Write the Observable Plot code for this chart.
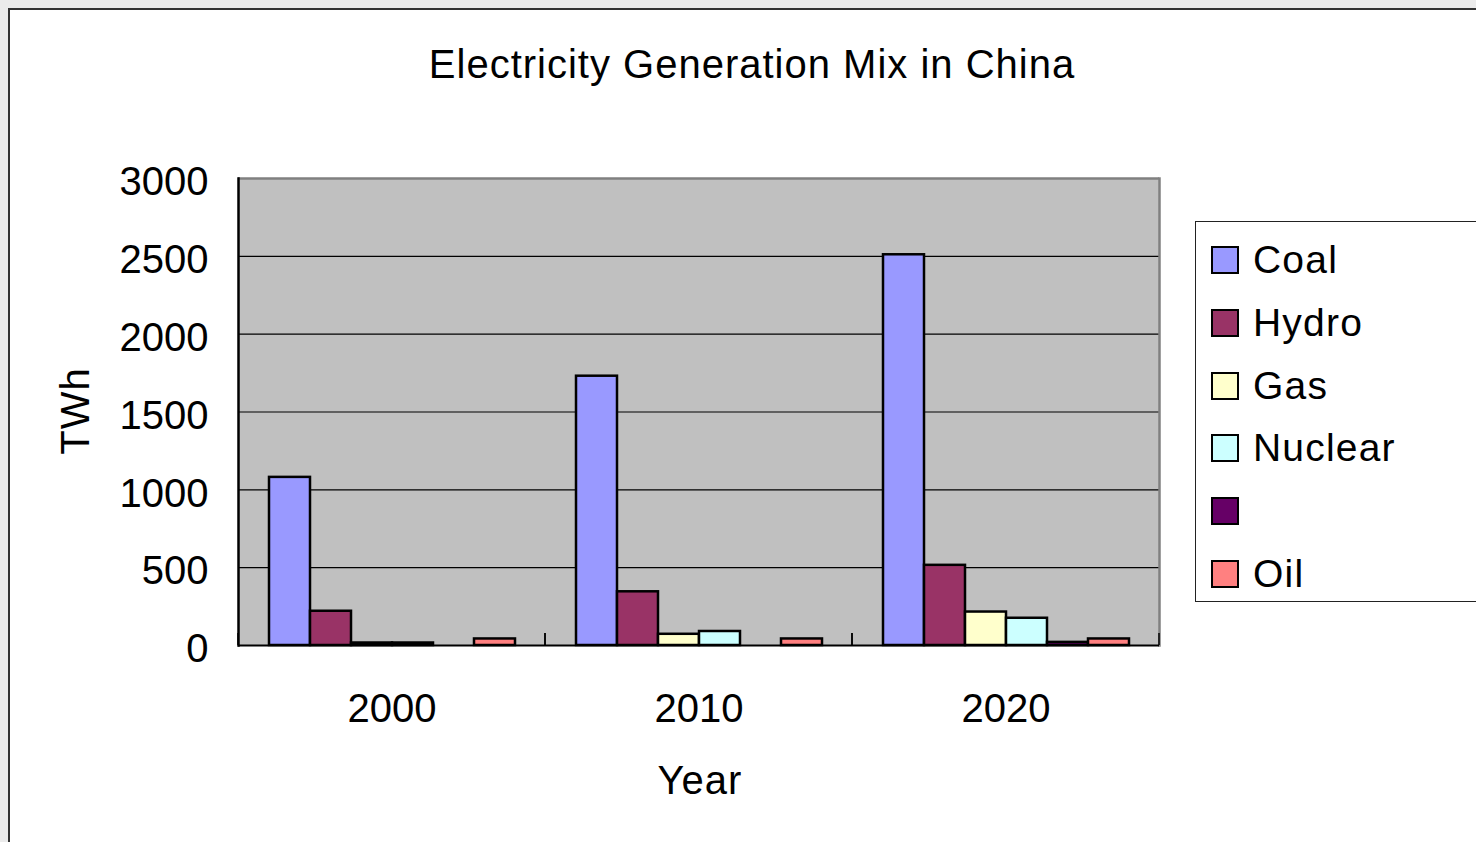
<!DOCTYPE html>
<html><head><meta charset="utf-8">
<script src="https://cdn.jsdelivr.net/npm/d3@7"></script>
<script src="https://cdn.jsdelivr.net/npm/@observablehq/plot@0.6"></script>
<style>
html,body{margin:0;padding:0;background:#ebebeb;width:1476px;height:842px;overflow:hidden;font-family:"Liberation Sans",Arial,sans-serif;color:#000}
#panel{position:absolute;left:8px;top:8px;width:1520px;height:880px;background:#fff;border:2px solid #333;box-sizing:border-box}
#chart{position:absolute;left:0;top:0}
.title{position:absolute;top:40px;left:752px;transform:translateX(-50%);font-size:40px;letter-spacing:1px;white-space:nowrap;line-height:48px}
.xlab{position:absolute;top:756px;left:700px;transform:translateX(-50%);font-size:40px;letter-spacing:1px;line-height:48px}
.ylab{position:absolute;left:75px;top:411px;transform:translate(-50%,-50%) rotate(-90deg);font-size:40px;letter-spacing:1px;line-height:48px}
#legend{position:absolute;left:1195px;top:221px;width:320px;height:381px;border:1.5px solid #222;box-sizing:border-box;background:#fff}
.item{position:absolute;left:15px;height:40px;display:flex;align-items:center;font-size:39px;letter-spacing:1.2px}
.sw{width:28px;height:28px;border:2.5px solid #000;box-sizing:border-box;margin-right:14px}
</style></head>
<body>
<div id="panel"></div>
<div id="chart"></div>
<div class="title">Electricity Generation Mix in China</div>
<div class="xlab">Year</div>
<div class="ylab">TWh</div>
<div id="legend"></div>
<script>
const years = ["2000", "2010", "2020"];
const series = ["Coal", "Hydro", "Gas", "Nuclear", " ", "Oil"];
const colors = ["#9999ff", "#993366", "#ffffcc", "#ccffff", "#660066", "#ff8080"];
const coal = [1080, 1730, 2510];
const hydro = [220, 345, 515];
const gas = [16, 72, 215];
const nuclear = [16, 90, 175];
const other = [null, null, 20];
const oil = [42, 42, 42];
const yTicks = [0, 500, 1000, 1500, 2000, 2500, 3000];

const valuesBySeries = [coal, hydro, gas, nuclear, other, oil];
const data = [];
years.forEach((yr, i) => series.forEach((s, j) => {
  const v = valuesBySeries[j][i];
  if (v != null) data.push({year: yr, series: s, value: v});
}));

const boundaryTicks = (index, scales, values, dims) => {
  const g = d3.create("svg:g");
  const y0 = scales.y(0);
  for (const x of [dims.marginLeft, dims.width - dims.marginRight]) {
    g.append("line").attr("x1", x).attr("x2", x).attr("y1", y0).attr("y2", y0 - 12)
      .attr("stroke", "#000").attr("stroke-width", 1.5);
  }
  return g.node();
};

const chart = Plot.plot({
  width: 1476, height: 842,
  marginLeft: 238, marginRight: 317, marginTop: 178, marginBottom: 197,
  style: {background: "transparent", fontFamily: "'Liberation Sans', Arial, sans-serif", fontSize: "39px", color: "#000"},
  fx: {domain: years, padding: 0, label: null, axis: null},
  x: {domain: series, paddingInner: 0, paddingOuter: 0.7, align: 0.5, axis: null},
  y: {domain: [0, 3000], label: null, axis: null},
  color: {domain: series, range: colors},
  marks: [
    Plot.frame({fill: "#c0c0c0", shapeRendering: "crispEdges"}),
    Plot.ruleY(yTicks.filter(d => d > 0 && d < 3000), {stroke: "#000", strokeWidth: 1.2}),
    Plot.ruleY([3000], {stroke: "#808080", strokeWidth: 2.5}),
    Plot.frame({anchor: "right", facetAnchor: "right", stroke: "#808080", strokeWidth: 2.5}),
    Plot.barY(data, {fx: "year", x: "series", y: "value", fill: "series", stroke: "#000", strokeWidth: 2.5}),
    Plot.ruleY([0], {stroke: "#000", strokeWidth: 2}),
    Plot.frame({anchor: "left", facetAnchor: "left", stroke: "#000", strokeWidth: 2.5}),
    boundaryTicks,
    Plot.axisY(yTicks, {tickSize: 0, tickPadding: 30, tickFormat: d => String(d), label: null, fontSize: 40, dy: 4}),
    Plot.axisFx({anchor: "bottom", tickSize: 0, tickPadding: 48, label: null, fontSize: 40})
  ]
});
document.getElementById("chart").appendChild(chart);

const legend = document.getElementById("legend");
series.forEach((s, i) => {
  const item = document.createElement("div");
  item.className = "item";
  item.style.top = (18 + i * 62.8) + "px";
  const sw = document.createElement("div");
  sw.className = "sw";
  sw.style.background = colors[i];
  const t = document.createElement("span");
  t.textContent = s;
  item.appendChild(sw); item.appendChild(t);
  legend.appendChild(item);
});
</script>
</body></html>
